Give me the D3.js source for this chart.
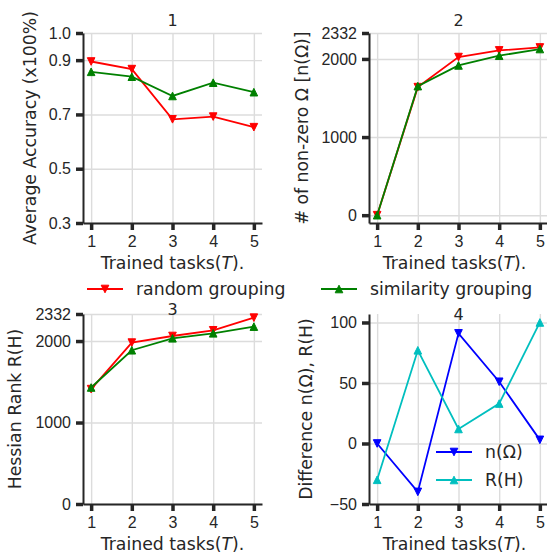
<!DOCTYPE html>
<html>
<head>
<meta charset="utf-8">
<script src="https://cdn.jsdelivr.net/npm/d3@7"></script>
<style>
  body { margin: 0; background: #fff; }
  svg { font-family: "DejaVu Sans", sans-serif; }
  .grid line { stroke: #dcdcdc; stroke-width: 1.4; }
  .grid path { display: none; }
  .axis path { stroke: #262626; stroke-width: 2; }
  .axis line { stroke: #262626; stroke-width: 3.5; }
  .axis text { fill: #262626; font-size: 16px; }
  .label { fill: #262626; font-size: 17.3px; }
  .title { fill: #262626; font-size: 16px; }
</style>
</head>
<body>
<script>
//tasks on the x axis
var tasks = [1, 2, 3, 4, 5];

//panel 1: average accuracy
var accRandom = [0.895, 0.867, 0.682, 0.692, 0.653];
var accSimilar = [0.857, 0.839, 0.768, 0.817, 0.782];
var accTicks = [0.3, 0.5, 0.7, 0.9, 1.0];

//panel 2: number of non-zero omega
var omegaRandom = [0, 1639, 2024, 2109, 2147];
var omegaSimilar = [0, 1652, 1917, 2041, 2127];

//panel 3: hessian rank
var rankRandom = [1410, 1981, 2062, 2132, 2287];
var rankSimilar = [1430, 1887, 2034, 2095, 2177];
var countTicks = [0, 1000, 2000, 2332];

//panel 4: differences
var diffOmega = [0, -40, 91, 51, 3];
var diffRank = [-30, 77, 12, 33, 100];
var diffTicks = [-50, 0, 50, 100];

var legendNames = ["random grouping", "similarity grouping"];
var diffNames = ["n(\u03A9)", "R(H)"];

var width = 547,
    height = 555;

var svg = d3.select("body")
    .append("svg")
    .attr("width", width)
    .attr("height", height);

//triangle marker, dir = 1 up, -1 down
function triangle(dir, r){
    return "M0," + (-r * dir) + "L" + r + "," + (r * dir) + "L" + (-r) + "," + (r * dir) + "Z";
};

//draw one subplot
function drawPanel(p){
    var x = d3.scaleLinear().domain([0.8, 5.2]).range([p.left, p.right]);
    var y = d3.scaleLinear().domain(p.yDomain).range([p.bottom, p.top]);

    var g = svg.append("g");

    //grid lines
    g.append("g")
        .attr("class", "grid")
        .attr("transform", "translate(0," + p.bottom + ")")
        .call(d3.axisBottom(x).tickValues(tasks).tickSize(-(p.bottom - p.top)).tickFormat(""));
    g.append("g")
        .attr("class", "grid")
        .attr("transform", "translate(" + p.left + ",0)")
        .call(d3.axisLeft(y).tickValues(p.yTicks).tickSize(-(p.right - p.left)).tickFormat(""));

    //series
    var line = d3.line()
        .x(function(d, i){ return x(tasks[i]); })
        .y(function(d){ return y(d); });

    p.series.forEach(function(s){
        g.append("path")
            .datum(s.values)
            .attr("d", line)
            .attr("fill", "none")
            .attr("stroke", s.color)
            .attr("stroke-width", 1.8);
        g.selectAll(null)
            .data(s.values)
            .enter()
            .append("path")
            .attr("transform", function(d, i){ return "translate(" + x(tasks[i]) + "," + y(d) + ")"; })
            .attr("d", triangle(s.dir, 3.8))
            .attr("fill", s.color)
            .attr("stroke", s.color)
            .attr("stroke-width", 1);
    });

    //axes (left and bottom spines only)
    g.append("g")
        .attr("class", "axis")
        .attr("transform", "translate(0," + p.bottom + ")")
        .call(d3.axisBottom(x).tickValues(tasks).tickSize(7).tickSizeOuter(0).tickPadding(6).tickFormat(d3.format("d")));
    g.append("g")
        .attr("class", "axis")
        .attr("transform", "translate(" + p.left + ",0)")
        .call(d3.axisLeft(y).tickValues(p.yTicks).tickSize(7).tickSizeOuter(0).tickPadding(5).tickFormat(p.yFormat));

    //x label
    var xl = g.append("text")
        .attr("class", "label")
        .attr("x", (p.left + p.right) / 2 - (p.right > 540 ? 4 : 0))
        .attr("y", p.bottom + 46)
        .attr("text-anchor", "middle");
    xl.append("tspan").text("Trained tasks(");
    xl.append("tspan").attr("font-style", "italic").text("T");
    xl.append("tspan").text(").");

    //y label
    g.append("text")
        .attr("class", "label")
        .attr("transform", "translate(" + p.labelX + "," + (p.top + p.bottom) / 2 + ") rotate(-90)")
        .attr("dy", "0.35em")
        .attr("text-anchor", "middle")
        .text(p.yLabel);

    //title
    g.append("text")
        .attr("class", "title")
        .attr("x", x(3))
        .attr("y", p.titleY)
        .attr("text-anchor", "middle")
        .text(p.title);

    return { x: x, y: y };
};

drawPanel({
    left: 83, right: 262, top: 33, bottom: 223,
    yDomain: [0.3, 1.0], yTicks: accTicks, yFormat: d3.format(".1f"),
    yLabel: "Average Accuracy (x100%)", labelX: 30,
    title: "1", titleY: 26,
    series: [
        { values: accRandom, color: "#ff0000", dir: -1 },
        { values: accSimilar, color: "#008000", dir: 1 }
    ]
});

drawPanel({
    left: 369, right: 548, top: 33, bottom: 223,
    yDomain: [-100, 2332], yTicks: countTicks, yFormat: d3.format("d"),
    yLabel: "# of non-zero \u03A9 [n(\u03A9)]", labelX: 302,
    title: "2", titleY: 26,
    series: [
        { values: omegaRandom, color: "#ff0000", dir: -1 },
        { values: omegaSimilar, color: "#008000", dir: 1 }
    ]
});

drawPanel({
    left: 83, right: 262, top: 314, bottom: 504,
    yDomain: [0, 2332], yTicks: countTicks, yFormat: d3.format("d"),
    yLabel: "Hessian Rank R(H)", labelX: 15,
    title: "3", titleY: 315,
    series: [
        { values: rankRandom, color: "#ff0000", dir: -1 },
        { values: rankSimilar, color: "#008000", dir: 1 }
    ]
});

drawPanel({
    left: 369, right: 548, top: 314, bottom: 504,
    yDomain: [-50, 107], yTicks: diffTicks, yFormat: d3.format("d"),
    yLabel: "Difference n(\u03A9), R(H)", labelX: 306,
    title: "4", titleY: 320,
    series: [
        { values: diffOmega, color: "#0000ff", dir: -1 },
        { values: diffRank, color: "#00bfbf", dir: 1 }
    ]
});

//shared legend between rows
function legendItem(x0, yy, color, dir, name){
    svg.append("line")
        .attr("x1", x0).attr("x2", x0 + 36)
        .attr("y1", yy).attr("y2", yy)
        .attr("stroke", color)
        .attr("stroke-width", 1.8);
    svg.append("path")
        .attr("transform", "translate(" + (x0 + 18) + "," + yy + ")")
        .attr("d", triangle(dir, 3.8))
        .attr("fill", color)
        .attr("stroke", color)
        .attr("stroke-width", 1);
    svg.append("text")
        .attr("class", "label")
        .attr("x", x0 + 49)
        .attr("y", yy)
        .attr("dy", "0.35em")
        .text(name);
};

legendItem(87, 289, "#ff0000", -1, legendNames[0]);
legendItem(321, 289, "#008000", 1, legendNames[1]);

//legend inside panel 4
legendItem(436, 452, "#0000ff", -1, diffNames[0]);
legendItem(436, 480, "#00bfbf", 1, diffNames[1]);
</script>
</body>
</html>
